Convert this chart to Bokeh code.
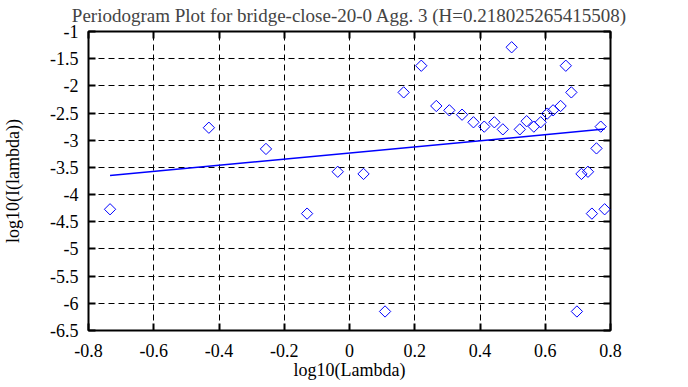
from bokeh.plotting import figure
from bokeh.models import FixedTicker, LinearAxis, Range1d, ColumnDataSource, CustomLabelingPolicy
from bokeh.embed import file_html
from bokeh.resources import INLINE
import math

# data
log_lambda = [-0.734, -0.431, -0.256, -0.130, -0.036, 0.043, 0.109, 0.166, 0.220,
              0.266, 0.306, 0.345, 0.380, 0.413, 0.444, 0.470, 0.497, 0.522, 0.543,
              0.565, 0.586, 0.606, 0.624, 0.647, 0.663, 0.680, 0.697, 0.711, 0.731,
              0.743, 0.757, 0.770, 0.782]
log_I = [-4.27, -2.77, -3.16, -4.35, -3.58, -3.62, -6.15, -2.12, -1.63,
         -2.37, -2.45, -2.53, -2.67, -2.75, -2.67, -2.80, -1.29, -2.80, -2.65,
         -2.75, -2.67, -2.51, -2.45, -2.37, -1.63, -2.12, -6.15, -3.62, -3.58,
         -4.35, -3.15, -2.75, -4.27]

fit_slope = 0.564
fit_intercept = -3.236
fit_x = [min(log_lambda), max(log_lambda)]
fit_y = [fit_intercept + fit_slope * x for x in fit_x]

x_ticks = [-0.8, -0.6, -0.4, -0.2, 0.0, 0.2, 0.4, 0.6, 0.8]
x_tick_labels = ["-0.8", "-0.6", "-0.4", "-0.2", "0", "0.2", "0.4", "0.6", "0.8"]
y_ticks = [-1.0, -1.5, -2.0, -2.5, -3.0, -3.5, -4.0, -4.5, -5.0, -5.5, -6.0, -6.5]
y_tick_labels = ["-1", "-1.5", "-2", "-2.5", "-3", "-3.5", "-4", "-4.5", "-5", "-5.5", "-6", "-6.5"]

title_text = "Periodogram Plot for bridge-close-20-0 Agg. 3 (H=0.218025265415508)"
FONT = "Liberation Serif"
FS = "18px"

W, H = 680, 387
BL, BR, BT, BB = 82, 70, 31, 57

p = figure(output_backend="svg", toolbar_location=None,
           width=W, height=H, title=title_text,
           x_range=Range1d(-0.8, 0.8), y_range=Range1d(-6.5, -1.0),
           min_border_left=BL, min_border_right=BR, min_border_top=BT, min_border_bottom=BB)

p.title.text_font = FONT
p.title.text_font_size = "19px"
p.title.text_font_style = "normal"
p.title.text_line_height = 1.0
p.title.align = "center"
p.title.vertical_align = "top"
p.title.standoff = 0

p.background_fill_color = "white"
p.border_fill_color = "white"
p.outline_line_color = "black"
p.outline_line_width = 2

p.xaxis.ticker = FixedTicker(ticks=x_ticks)
p.yaxis.ticker = FixedTicker(ticks=y_ticks)
p.xaxis.major_label_overrides = dict(zip(x_ticks, x_tick_labels))
p.yaxis.major_label_overrides = dict(zip(y_ticks, y_tick_labels))
p.xaxis.axis_label = "log10(Lambda)"
p.yaxis.axis_label = "log10(I(lambda))"

for ax in (p.xaxis[0], p.yaxis[0]):
    ax.axis_line_color = None
    ax.major_tick_in = 7
    ax.major_tick_out = 0
    ax.major_tick_line_width = 2
    ax.major_tick_line_color = "black"
    ax.minor_tick_line_color = None
    ax.major_label_text_font = FONT
    ax.major_label_text_font_size = FS
    ax.major_label_text_color = "black"
    ax.axis_label_text_font = FONT
    ax.axis_label_text_font_size = FS
    ax.axis_label_text_font_style = "normal"
    ax.axis_label_text_color = "black"

p.xaxis.major_label_standoff = 13
p.xaxis.axis_label_standoff = 0
p.yaxis.major_label_standoff = 10
p.yaxis.axis_label_standoff = 24

# mirror ticks on top and right (no labels)
hide_all = CustomLabelingPolicy(code="for (const i of indices) indices.unset(i); return indices")
for loc, ticks in (("above", x_ticks), ("right", y_ticks)):
    ax = LinearAxis(ticker=FixedTicker(ticks=ticks), major_label_policy=hide_all)
    ax.axis_line_color = None
    ax.major_tick_in = 7
    ax.major_tick_out = 0
    ax.major_tick_line_width = 2
    ax.minor_tick_line_color = None
    ax.major_label_standoff = 0
    ax.major_label_text_font_size = "1px"
    p.add_layout(ax, loc)

p.grid.grid_line_color = "black"
p.grid.grid_line_dash = "6 4"
p.grid.grid_line_width = 1
p.xgrid.ticker = FixedTicker(ticks=x_ticks)
p.ygrid.ticker = FixedTicker(ticks=y_ticks)

src = ColumnDataSource(dict(x=log_lambda, y=log_I))
p.scatter("x", "y", source=src, marker="square", size=8, angle=math.pi / 4,
          fill_color=None, line_color="#0000ff", line_width=1)
p.line(fit_x, fit_y, line_color="#0000ff", line_width=1.5)

open("out.html", "w").write(file_html(p, INLINE))
